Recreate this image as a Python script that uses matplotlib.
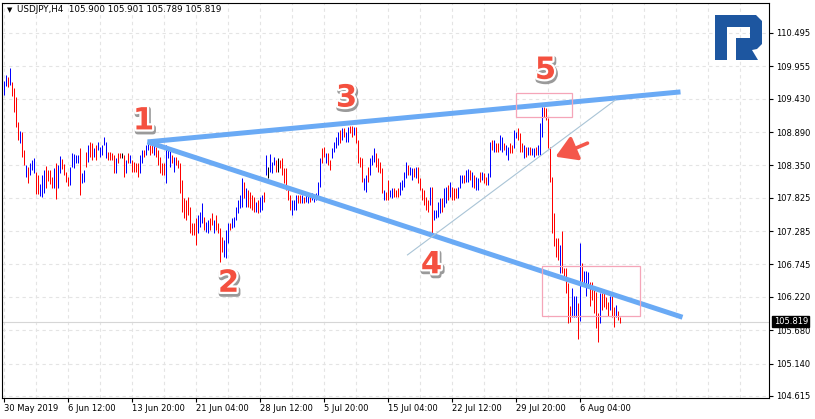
import numpy as np
import matplotlib
matplotlib.use("Agg")
import matplotlib.pyplot as plt
import matplotlib.patheffects as pe
from matplotlib.patches import Rectangle, Polygon

# USDJPY H4 bars (high / low per bar, b=up r=down k=doji)
highs = [
    # 30 May - 6 Jun
    109.72, 109.81, 109.78, 109.93, 109.70, 109.60, 109.46, 109.05, 108.91, 108.89,
    108.60, 108.36, 108.32, 108.39, 108.44, 108.47, 108.24, 108.19, 108.05, 108.19,
    108.28, 108.34, 108.28, 108.28, 108.16, 108.31, 108.39, 108.36, 108.50, 108.45,
    108.37, 108.24, 108.16, 108.32, 108.55, 108.54, 108.52, 108.52, 108.63, 108.23,
    108.28,
    # up to 28 Jun
    108.57, 108.68, 108.73, 108.71, 108.63, 108.68, 108.73, 108.65, 108.68, 108.81,
    108.73, 108.57, 108.57, 108.55, 108.52, 108.47, 108.55, 108.55, 108.55, 108.52,
    108.44, 108.55, 108.52, 108.44, 108.41, 108.39, 108.39, 108.52, 108.60, 108.60,
    108.68, 108.71, 108.68, 108.71, 108.68, 108.65, 108.60, 108.49, 108.39, 108.39,
    108.68, 108.65, 108.63, 108.52, 108.49, 108.49, 108.44, 108.39, 108.11, 107.82,
    107.79, 107.84, 107.68, 107.42, 107.42, 107.50, 107.55, 107.60, 107.74, 107.51,
    107.43, 107.47, 107.50, 107.58, 107.47, 107.55, 107.42, 107.34, 107.19, 107.14,
    107.30, 107.42, 107.42, 107.50, 107.51, 107.68, 107.79, 107.87, 108.15, 108.08,
    107.98, 107.95, 107.92, 107.87, 107.84, 107.76, 107.79, 107.84, 107.87, 107.92,
    # up to 15 Jul
    108.52, 108.32, 108.54, 108.41, 108.49, 108.44, 108.47, 108.44, 108.47, 108.31,
    108.31, 108.00, 107.87, 107.79, 107.79, 107.87, 107.87, 107.87, 107.87, 107.84,
    107.87, 107.87, 107.87, 107.90, 107.87, 107.90, 108.08, 108.47, 108.63, 108.65,
    108.55, 108.55, 108.44, 108.63, 108.73, 108.81, 108.89, 108.92, 108.96, 108.96,
    108.89, 108.97, 108.99, 108.99, 108.97, 108.97, 108.76, 108.49, 108.47, 108.15,
    108.19, 108.32, 108.47, 108.52, 108.63, 108.55, 108.47, 108.41, 108.31, 107.95,
    107.92, 108.11, 107.95, 107.98, 107.98, 107.95, 107.98, 108.08, 108.11, 108.24,
    108.41, 108.36, 108.32,
    # up to 1 Aug
    108.31, 108.31, 108.32, 108.32, 108.15, 107.98, 107.95, 107.84, 107.79, 108.00,
    108.00, 107.63, 107.63, 107.76, 107.82, 107.82, 107.98, 108.00, 108.03, 108.08,
    108.00, 107.98, 107.98, 108.00, 108.19, 108.19, 108.19, 108.28, 108.29, 108.28,
    108.24, 108.19, 108.16, 108.15, 108.24, 108.24, 108.23, 108.16, 108.23, 108.73,
    108.76, 108.76, 108.71, 108.71, 108.84, 108.81, 108.71, 108.68, 108.65, 108.71,
    108.68, 108.92, 108.89, 108.96, 108.87, 108.71, 108.68, 108.65, 108.65, 108.65,
    108.63, 108.63, 108.65, 108.68, 109.04, 109.30, 109.30, 109.28, 109.12, 108.65,
    # the drop
    108.16, 107.58, 107.17, 107.17, 107.06, 107.29, 106.69, 106.69, 106.45, 106.07,
    106.36, 106.23, 106.23, 106.12, 107.09, 106.77, 106.64, 106.64, 106.62, 106.46,
    106.46, 106.36, 106.30, 105.96, 106.28, 106.28, 106.28, 106.22, 106.14, 106.23,
    106.25, 106.06, 106.09, 105.99, 105.901,
]
lows = [
    109.49, 109.64, 109.62, 109.65, 109.47, 109.21, 108.97, 108.76, 108.71, 108.49,
    108.36, 108.16, 108.06, 108.19, 108.28, 108.23, 107.89, 107.89, 107.85, 107.84,
    107.90, 107.98, 108.10, 108.05, 107.98, 107.98, 107.81, 107.98, 108.23, 108.29,
    108.19, 108.08, 108.02, 108.03, 108.32, 108.31, 108.39, 108.39, 107.87, 108.06,
    108.08,
    108.32, 108.41, 108.49, 108.44, 108.49, 108.44, 108.60, 108.49, 108.52, 108.68,
    108.47, 108.44, 108.44, 108.44, 108.23, 108.23, 108.39, 108.47, 108.47, 108.16,
    108.23, 108.39, 108.39, 108.24, 108.24, 108.24, 108.16, 108.23, 108.39, 108.49,
    108.52, 108.60, 108.52, 108.55, 108.52, 108.49, 108.36, 108.23, 108.19, 108.19,
    108.06, 108.47, 108.32, 108.39, 108.24, 108.36, 108.31, 107.90, 107.60, 107.50,
    107.47, 107.55, 107.26, 107.22, 107.22, 107.06, 107.26, 107.35, 107.42, 107.30,
    107.27, 107.26, 107.30, 107.39, 107.26, 107.30, 107.26, 106.79, 106.95, 106.87,
    106.85, 107.09, 107.30, 107.34, 107.35, 107.47, 107.58, 107.66, 107.68, 107.82,
    107.68, 107.68, 107.66, 107.63, 107.60, 107.60, 107.58, 107.60, 107.63, 107.76,
    108.19, 108.15, 108.24, 108.23, 108.36, 108.24, 108.24, 108.31, 108.19, 108.06,
    107.95, 107.79, 107.63, 107.55, 107.63, 107.63, 107.74, 107.74, 107.74, 107.74,
    107.76, 107.74, 107.76, 107.79, 107.76, 107.79, 107.84, 108.00, 108.39, 108.49,
    108.39, 108.36, 108.28, 108.47, 108.57, 108.63, 108.68, 108.71, 108.76, 108.81,
    108.73, 108.73, 108.87, 108.81, 108.84, 108.71, 108.39, 108.32, 108.08, 107.95,
    107.92, 108.08, 108.19, 108.36, 108.41, 108.32, 108.24, 108.23, 107.90, 107.79,
    107.79, 107.79, 107.84, 107.82, 107.84, 107.84, 107.84, 107.87, 107.95, 108.00,
    108.15, 108.19, 108.19,
    108.11, 108.16, 108.15, 108.06, 107.95, 107.79, 107.71, 107.63, 107.60, 107.71,
    107.26, 107.47, 107.50, 107.51, 107.58, 107.60, 107.68, 107.74, 107.79, 107.84,
    107.79, 107.79, 107.82, 107.82, 107.98, 108.06, 108.06, 108.08, 108.08, 108.11,
    108.00, 107.98, 107.95, 107.95, 108.08, 108.11, 108.06, 108.03, 108.03, 108.16,
    108.60, 108.57, 108.57, 108.57, 108.60, 108.57, 108.60, 108.52, 108.44, 108.55,
    108.55, 108.63, 108.79, 108.76, 108.57, 108.57, 108.47, 108.49, 108.52, 108.52,
    108.52, 108.49, 108.52, 108.52, 108.52, 108.81, 109.13, 109.09, 108.63, 108.08,
    107.26, 107.04, 106.87, 106.82, 106.61, 106.61, 106.53, 106.28, 105.80, 105.81,
    105.89, 105.89, 105.89, 105.54, 105.83, 106.41, 106.40, 106.23, 106.38, 106.07,
    106.17, 105.96, 105.72, 105.49, 105.80, 106.01, 106.06, 106.02, 105.91, 106.01,
    105.89, 105.73, 105.89, 105.85, 105.789,
]
dirs = ("bbrbrrrrbrrbrbbbrrbbbrrrrbrbbrrrrbbbbbrbb"
        "rbrrbrbbbbbrrrrbrrkrbrbrrrrbbrbbrrbrrrrrbbbrbrrrrrrrrrrrbbbrbbrrbrrrrbbbrbbbbbbrbrrrrbrbbr"
        "bkbbbrkrrrrrrbbbrrbrbbrbbbbbrrbrrbbbbrbrbbrrbrrrrbbrbbbrrrrbrrbbrrrbbbbrb"
        "brbrrrrrrbrbbbbrbbrbrrrbbbrbbrbrbbrbrrbbrbrrbbrbbrrbbrrrbrbrbbrbbbrrrr"
        "rrrrbrrrrrbbbrbrbbbrrrrrbrrrrbrrbrr")

last_bar = [105.900, 105.901, 105.789, 105.819]   # O H L C shown in the header

yticks = [104.615, 105.140, 105.680, 106.220, 106.745, 107.285,
          107.825, 108.350, 108.890, 109.430, 109.955, 110.495]
xtick_bars = [0, 32, 64, 96, 128, 160, 192, 224, 256, 288]
xtick_labels = ["30 May 2019", "6 Jun 12:00", "13 Jun 20:00", "21 Jun 04:00",
                "28 Jun 12:00", "5 Jul 20:00", "15 Jul 04:00", "22 Jul 12:00",
                "29 Jul 20:00", "6 Aug 04:00"]

# drawings on the chart (bar index, price)
upper_line = [(72, 108.73), (338.5, 109.54)]
lower_line = [(72, 108.73), (339.5, 105.89)]
thin_line = [(202, 106.90), (306, 109.41)]
top_box = [(256, 109.13), (284, 109.52)]
bottom_box = [(269, 105.91), (318, 106.72)]
arrow_from = (292, 108.71)
arrow_to = (276, 108.49)
wave_labels = ["1", "2", "3", "4", "5"]
wave_x = [70, 112.5, 171.5, 214, 271]
wave_y = [109.07, 106.44, 109.44, 106.74, 109.89]

assert len(highs) == len(lows) == len(dirs)

W, H = 815, 419
fig = plt.figure(figsize=(W / 100, H / 100), dpi=100)
ax = fig.add_axes([2 / W, 1 - 398 / H, 767 / W, 395 / H])

# 2 px per bar, bar centres on pixel centres
ax.set_xlim(-0.75, 382.75)
ax.set_ylim(104.582, 110.980)

# grid
grid_kw = dict(color="#e4e4e4", lw=0.8, ls=(0, (3, 3)), zorder=0)
for k in range(0, 25):
    ax.axvline(16 * k, **grid_kw)
for v in yticks:
    ax.axhline(v, **grid_kw)

# current price line
ax.axhline(last_bar[3], color="#d6d6d6", lw=0.8, zorder=1)

# bars
cmap = {"b": "#0000ff", "r": "#ff0000", "k": "#000000"}
x = np.arange(len(highs))
ax.vlines(x, lows, highs, colors=[cmap[c] for c in dirs], lw=0.72, zorder=2)

# trend lines
for ln in (upper_line, lower_line):
    ax.plot([ln[0][0], ln[1][0]], [ln[0][1], ln[1][1]], color="#6aaaf5",
            lw=3.6, solid_capstyle="butt", zorder=3)
ax.plot([thin_line[0][0], thin_line[1][0]], [thin_line[0][1], thin_line[1][1]],
        color="#a9c4d6", lw=0.8, zorder=3)

for b in (top_box, bottom_box):
    ax.add_patch(Rectangle(b[0], b[1][0] - b[0][0], b[1][1] - b[0][1],
                           fill=False, ec="#f5a5b8", lw=0.9, zorder=3))

ax.annotate("", xy=arrow_to, xytext=arrow_from,
            arrowprops=dict(arrowstyle="-|>,head_length=0.9,head_width=0.55",
                            color="#f4574b", lw=2.6, mutation_scale=14,
                            shrinkA=0, shrinkB=0), zorder=4)

effects = [pe.Stroke(linewidth=4, foreground="#9a9a9a", offset=(0.8, -1.6)),
           pe.Stroke(linewidth=3.2, foreground="white"), pe.Normal()]
for lab, wx, wy in zip(wave_labels, wave_x, wave_y):
    ax.text(wx, wy, lab, color="#f4503f", fontsize=22, fontweight="heavy",
            ha="center", va="center", path_effects=effects, zorder=5)

# axes styling
for s in ax.spines.values():
    s.set_color("black")
    s.set_linewidth(0.8)
ax.yaxis.tick_right()
ax.set_yticks(yticks)
ax.set_yticklabels([f"{v:.3f}" for v in yticks])
ax.set_xticks(xtick_bars)
ax.set_xticklabels(xtick_labels, ha="left")
ax.tick_params(axis="both", direction="out", length=3, width=0.8,
               labelsize=6, colors="black", pad=2)
ax.tick_params(axis="x", pad=1)

ax.text(1.006, last_bar[3], f"{last_bar[3]:.3f}", transform=ax.get_yaxis_transform(),
        color="white", fontsize=6, va="center", ha="left", zorder=6,
        bbox=dict(boxstyle="square,pad=0.15", fc="black", ec="black"), clip_on=False)

# header
fig.text(7 / W, 1 - 10 / H, "\u25bc", fontsize=5, va="center", ha="left")
fig.text(17 / W, 1 - 10 / H,
         "USDJPY,H4  " + " ".join(f"{v:.3f}" for v in last_bar),
         fontsize=6.3, va="center", ha="left")

# logo
pts = [(715, 60), (715, 15), (756, 15), (762, 21), (762, 44), (757, 49),
       (752, 50), (758, 60), (736, 60), (736, 38), (750, 38), (750, 27),
       (727, 27), (727, 60)]
fig.add_artist(Polygon([(px / W, 1 - py / H) for px, py in pts], closed=True,
                       fc="#1d56a0", ec="none", transform=fig.transFigure))

fig.savefig("out.png", dpi=100)
